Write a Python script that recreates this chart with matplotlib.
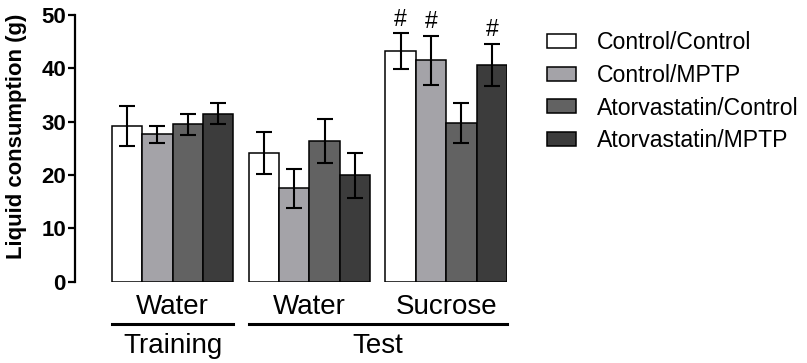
import matplotlib
matplotlib.use("Agg")
import matplotlib.pyplot as plt
from matplotlib.transforms import blended_transform_factory
from matplotlib.lines import Line2D
import numpy as np

plt.rcParams['font.family'] = ['Liberation Sans', 'DejaVu Sans']

# Data
groups = ["Water", "Water", "Sucrose"]
phases = ["Training", "Test"]
series = ["Control/Control", "Control/MPTP", "Atorvastatin/Control", "Atorvastatin/MPTP"]
means = {
    "Control/Control":      [29.2, 24.1, 43.2],
    "Control/MPTP":         [27.6, 17.5, 41.5],
    "Atorvastatin/Control": [29.5, 26.4, 29.7],
    "Atorvastatin/MPTP":    [31.5, 19.9, 40.6],
}
sems = {
    "Control/Control":      [3.8, 3.9, 3.4],
    "Control/MPTP":         [1.6, 3.7, 4.6],
    "Atorvastatin/Control": [2.0, 4.1, 3.8],
    "Atorvastatin/MPTP":    [2.0, 4.2, 4.0],
}
# '#' marks (significant vs water) per series in each group
significant = {
    "Control/Control":      [False, False, True],
    "Control/MPTP":         [False, False, True],
    "Atorvastatin/Control": [False, False, False],
    "Atorvastatin/MPTP":    [False, False, True],
}
colors = ["#ffffff", "#a4a3a8", "#626262", "#3c3c3c"]

W, H = 807, 363
fig = plt.figure(figsize=(W / 100, H / 100), dpi=100)
ax = fig.add_axes([75 / W, 1 - 281.5 / H, (507 - 75) / W, (281.5 - 15) / H])

centers = np.array([0.0, 4.5, 9.0])
for i, s in enumerate(series):
    x = centers + (i - 1.5)
    ax.bar(x, means[s], width=1.0, color=colors[i], edgecolor="black",
           linewidth=1.1, label=s, zorder=2)
    ax.errorbar(x, means[s], yerr=sems[s], fmt="none", ecolor="black",
                elinewidth=1.5, capsize=5.8, capthick=1.5, zorder=3)
    for xi, m, e, sig in zip(x, means[s], sems[s], significant[s]):
        if sig:
            ax.text(xi, m + e + 2.6, "#", ha="center", va="center",
                    fontsize=16.5, color="black")

ax.set_xlim(-3.21, 11.0)
ax.set_ylim(0, 50)
ax.set_yticks([0, 10, 20, 30, 40, 50])
ax.set_xticks([])
for side in ["top", "right", "bottom"]:
    ax.spines[side].set_visible(False)
ax.spines["left"].set_linewidth(1.6)
ax.tick_params(axis="y", length=5, width=1.6, pad=1.5, labelsize=16)
for lab in ax.get_yticklabels():
    lab.set_fontweight("bold")

fig.text(17 / W, 1 - 136 / H, "Liquid consumption (g)", rotation=90,
         ha="center", va="center", fontsize=15.9, fontweight="bold")

# Category and phase labels under the bars
tr = blended_transform_factory(ax.transData, fig.transFigure)
for c, g in zip(centers, groups):
    ax.text(c, 1 - 307 / H, g, transform=tr, ha="center", va="center",
            fontsize=20)
phase_spans = [(-2.0, 2.0), (2.5, 11.0)]
for (a, b), p in zip(phase_spans, phases):
    ax.add_line(Line2D([a, b], [1 - 324 / H] * 2, transform=tr, color="black",
                       linewidth=2.2, clip_on=False))
    ax.text((a + b) / 2, 1 - 346 / H, p, transform=tr, ha="center",
            va="center", fontsize=20)

fig.legend(loc="upper left", bbox_to_anchor=(538 / W, 1 - 22 / H),
           frameon=False, fontsize=16.6, handlelength=1.25, handleheight=0.55,
           handletextpad=0.9, labelspacing=0.42, borderaxespad=0)

fig.savefig("out.png", dpi=100)
